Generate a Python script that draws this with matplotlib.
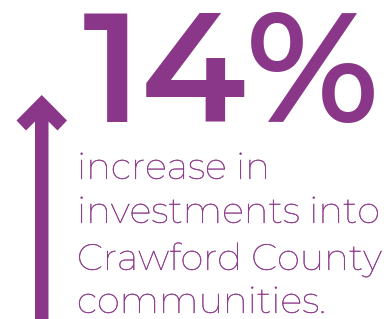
import matplotlib
matplotlib.use("Agg")
import matplotlib.pyplot as plt
import matplotlib.patheffects as pe
from matplotlib.patches import Polygon

# ---- data ----
value = 14
value_label = f"{value}%"
caption_lines = ["increase in", "investments into", "Crawford County", "communities."]

# ---- style ----
W, H = 390, 319
purple = "#8B3789"
big_font = "Montserrat Alternates"
body_font = "Montserrat"

fig = plt.figure(figsize=(W / 100, H / 100), dpi=100)
ax = fig.add_axes([0, 0, 1, 1])
ax.set_xlim(0, W)
ax.set_ylim(H, 0)
ax.axis("off")

renderer = fig.canvas.get_renderer()


def place(s, x_left, y_base, family, weight, size, effects=None):
    t = ax.text(x_left, y_base, s, fontsize=size, family=family, fontweight=weight,
                color=purple, ha="left", va="baseline")
    bb = t.get_window_extent(renderer)
    # shift so the ink starts at x_left
    t.set_x(x_left - (bb.x0 - x_left))
    if effects:
        t.set_path_effects(effects)
    return t, bb.width


# big number: left ~83, baseline ~122, right ~380
t_big, w = place(value_label, 83, 122, big_font, 600, 80)
fs_big = 80 * 297 / w
t_big.remove()
t_big, _ = place(value_label, 83, 122, big_font, 600, fs_big)

# caption lines: size chosen so the lines fit their reference widths
baselines = [179, 223, 270, 313]
targets = [190, 301, 305, 250]
ratios = []
for line, tw in zip(caption_lines, targets):
    t, w = place(line, 77, 0, body_font, "normal", 20)
    ratios.append(20 * tw / w)
    t.remove()
fs_body = sorted(ratios)[len(ratios) // 2]
thicken = [pe.withStroke(linewidth=0.2, foreground="#9A4C98")]
for line, yb in zip(caption_lines, baselines):
    place(line, 77, yb, body_font, "normal", fs_body, thicken)

# up arrow (chevron head + shaft)
arrow = [(41.75, 95), (67, 120.5), (57.5, 130.5), (48.5, 121.5), (48.5, H + 2),
         (35, H + 2), (35, 121.5), (26, 130.5), (16.5, 120.5)]
ax.add_patch(Polygon(arrow, closed=True, facecolor=purple, edgecolor="none"))

fig.savefig("out.png", dpi=100)
